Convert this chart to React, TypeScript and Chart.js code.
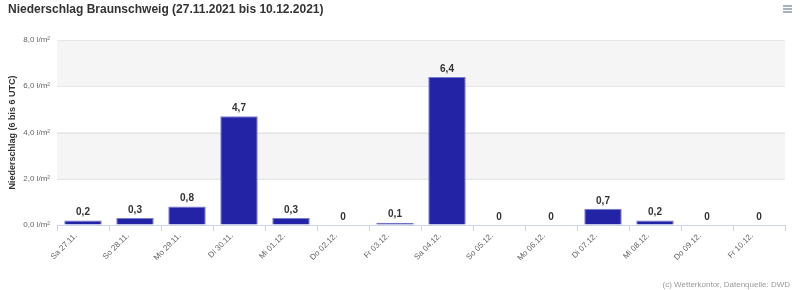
import React, { useEffect, useRef } from "react";
import { Chart, registerables } from "chart.js";

Chart.register(...registerables);

const categories = [
  "Sa 27.11.", "So 28.11.", "Mo 29.11.", "Di 30.11.", "Mi 01.12.", "Do 02.12.", "Fr 03.12.",
  "Sa 04.12.", "So 05.12.", "Mo 06.12.", "Di 07.12.", "Mi 08.12.", "Do 09.12.", "Fr 10.12.",
];
const precipitation = [0.2, 0.3, 0.8, 4.7, 0.3, 0, 0.1, 6.4, 0, 0, 0.7, 0.2, 0, 0];
const yTicks = [0, 2, 4, 6, 8];
const titleText = "Niederschlag Braunschweig (27.11.2021 bis 10.12.2021)";
const yAxisTitle = "Niederschlag (6 bis 6 UTC)";
const creditsText = "(c) Wetterkontor, Datenquelle: DWD";

const FONT = "'Liberation Sans', Arial, sans-serif";

const fmt = (v: number) => (v === 0 ? "0" : v.toFixed(1).replace(".", ","));

const decorPlugin = {
  id: "decor",
  beforeDatasetsDraw(chart: any) {
    const { ctx, chartArea, scales } = chart;
    const y = scales.y;
    ctx.save();
    ctx.fillStyle = "#f5f5f5";
    for (const [a, b] of [[2, 4], [6, 8]]) {
      const top = y.getPixelForValue(b);
      const bot = y.getPixelForValue(a);
      ctx.fillRect(chartArea.left, top, chartArea.right - chartArea.left, bot - top);
    }
    ctx.strokeStyle = "#e6e6e6";
    ctx.lineWidth = 1;
    for (const v of yTicks) {
      if (v === 0) continue;
      const py = Math.round(y.getPixelForValue(v)) + 0.5;
      ctx.beginPath();
      ctx.moveTo(chartArea.left, py);
      ctx.lineTo(chartArea.right, py);
      ctx.stroke();
    }
    ctx.restore();
  },
  afterDatasetsDraw(chart: any) {
    const { ctx } = chart;
    const meta = chart.getDatasetMeta(0);
    ctx.save();
    ctx.font = `bold 10px ${FONT}`;
    ctx.fillStyle = "#333333";
    ctx.textAlign = "center";
    ctx.textBaseline = "bottom";
    meta.data.forEach((bar: any, i: number) => {
      ctx.fillText(fmt(precipitation[i]), bar.x, bar.y - 3);
    });
    ctx.restore();
  },
  afterDraw(chart: any) {
    const { ctx, width, height } = chart;
    ctx.save();
    ctx.font = `bold 12px ${FONT}`;
    ctx.fillStyle = "#333333";
    ctx.textAlign = "left";
    ctx.textBaseline = "middle";
    ctx.fillText(titleText, 8, 10);
    ctx.font = `8px ${FONT}`;
    ctx.fillStyle = "#999999";
    ctx.textAlign = "right";
    ctx.textBaseline = "bottom";
    ctx.fillText(creditsText, width - 10, height - 1);
    ctx.strokeStyle = "#8899aa";
    ctx.lineWidth = 1.5;
    for (const dy of [6, 9, 12]) {
      ctx.beginPath();
      ctx.moveTo(783, dy);
      ctx.lineTo(792, dy);
      ctx.stroke();
    }
    ctx.restore();
  },
};

export default function App() {
  const ref = useRef<HTMLCanvasElement>(null);
  useEffect(() => {
    if (!ref.current) return;
    const chart = new Chart(ref.current, {
      type: "bar",
      data: {
        labels: categories,
        datasets: [
          {
            data: precipitation,
            backgroundColor: "#2323a5",
            borderColor: "#7a7ad0",
            borderWidth: 1,
            barPercentage: 0.72,
            categoryPercentage: 1,
          },
        ],
      },
      options: {
        animation: false,
        responsive: false,
        maintainAspectRatio: false,
        layout: { padding: { top: 40, right: 15, left: 7, bottom: 0 } },
        plugins: {
          legend: { display: false },
          title: { display: false },
          tooltip: { enabled: false },
        },
        scales: {
          x: {
            offset: true,
            grid: {
              display: true,
              offset: true,
              drawOnChartArea: false,
              drawTicks: true,
              tickLength: 6,
              color: "#ccd6eb",
            },
            border: { display: true, color: "#ccd6eb" },
            ticks: {
              minRotation: 45,
              maxRotation: 45,
              autoSkip: false,
              font: { family: FONT, size: 8 },
              color: "#666666",
              padding: 0,
              labelOffset: -7,
            },
            afterFit(scale: any) {
              scale.height = 65;
            },
          },
          y: {
            min: 0,
            max: 8,
            afterBuildTicks(scale: any) {
              scale.ticks = yTicks.map((v) => ({ value: v }));
            },
            grid: { color: "#e6e6e6", drawTicks: false },
            border: { display: false },
            ticks: {
              font: { family: FONT, size: 8 },
              color: "#666666",
              padding: 7,
              callback: (v: any) => `${Number(v).toFixed(1).replace(".", ",")} l/m²`,
            },
            title: {
              display: true,
              text: yAxisTitle,
              font: { family: FONT, size: 9, weight: "bold" },
              color: "#333333",
              padding: 0,
            },
            afterFit(scale: any) {
              scale.width = 50;
            },
          },
        },
      },
      plugins: [decorPlugin],
    });
    return () => chart.destroy();
  }, []);
  return (
    <div style={{ position: "absolute", left: 0, top: 0, width: 800, height: 290, background: "#fff" }}>
      <canvas ref={ref} width={800} height={290} />
    </div>
  );
}
